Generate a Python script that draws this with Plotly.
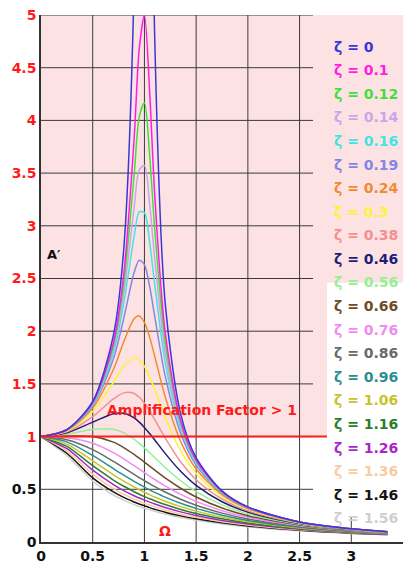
import plotly.graph_objects as go

# ---- data ----
omega = [0, 0.25, 0.5, 0.7, 0.8, 0.9, 0.95, 1.0, 1.05, 1.1, 1.2, 1.35, 1.5, 1.75, 2.0, 2.5, 3.0, 3.35]

zeta_labels = ["0", "0.1", "0.12", "0.14", "0.16", "0.19", "0.24", "0.3", "0.38", "0.46", "0.56",
               "0.66", "0.76", "0.86", "0.96", "1.06", "1.16", "1.26", "1.36", "1.46", "1.56"]

a_z000 = [1, 1.067, 1.333, 1.961, 2.778, 5.263, 10.26, None, 9.756, 4.762, 2.273, 1.216, 0.8, 0.485, 0.333, 0.190, 0.125, 0.098]
a_z010 = [1, 1.065, 1.322, 1.891, 2.538, 3.821, 4.682, 5.0, 4.279, 3.288, 1.995, 1.155, 0.778, 0.478, 0.330, 0.190, 0.125, 0.098]
a_z012 = [1, 1.065, 1.317, 1.862, 2.451, 3.476, 4.033, 4.167, 3.676, 2.965, 1.902, 1.131, 0.769, 0.475, 0.329, 0.189, 0.125, 0.098]
a_z014 = [1, 1.064, 1.311, 1.830, 2.358, 3.169, 3.530, 3.571, 3.212, 2.683, 1.806, 1.105, 0.758, 0.472, 0.328, 0.189, 0.124, 0.097]
a_z016 = [1, 1.063, 1.304, 1.795, 2.264, 2.898, 3.132, 3.125, 2.847, 2.440, 1.712, 1.076, 0.747, 0.468, 0.326, 0.188, 0.124, 0.097]
a_z019 = [1, 1.061, 1.293, 1.738, 2.122, 2.556, 2.674, 2.632, 2.427, 2.138, 1.578, 1.032, 0.728, 0.462, 0.323, 0.187, 0.124, 0.097]
a_z024 = [1, 1.058, 1.270, 1.637, 1.900, 2.119, 2.145, 2.083, 1.944, 1.760, 1.380, 0.955, 0.693, 0.449, 0.318, 0.186, 0.123, 0.097]
a_z030 = [1, 1.053, 1.238, 1.514, 1.667, 1.747, 1.729, 1.667, 1.567, 1.444, 1.185, 0.866, 0.649, 0.432, 0.310, 0.183, 0.122, 0.096]
a_z038 = [1, 1.045, 1.189, 1.357, 1.415, 1.409, 1.373, 1.316, 1.243, 1.160, 0.988, 0.761, 0.591, 0.408, 0.297, 0.179, 0.120, 0.095]
a_z046 = [1, 1.036, 1.137, 1.217, 1.221, 1.177, 1.137, 1.087, 1.029, 0.968, 0.841, 0.671, 0.537, 0.382, 0.284, 0.175, 0.118, 0.094]
a_z056 = [1, 1.022, 1.068, 1.069, 1.036, 0.975, 0.936, 0.893, 0.847, 0.800, 0.707, 0.581, 0.478, 0.352, 0.267, 0.168, 0.115, 0.092]
a_z066 = [1, 1.006, 1.001, 0.948, 0.896, 0.831, 0.795, 0.758, 0.720, 0.682, 0.608, 0.510, 0.427, 0.323, 0.250, 0.161, 0.112, 0.090]
a_z076 = [1, 0.989, 0.937, 0.848, 0.789, 0.724, 0.691, 0.658, 0.625, 0.593, 0.533, 0.452, 0.385, 0.297, 0.234, 0.154, 0.109, 0.088]
a_z086 = [1, 0.970, 0.876, 0.765, 0.703, 0.641, 0.611, 0.581, 0.553, 0.525, 0.474, 0.406, 0.349, 0.274, 0.219, 0.147, 0.105, 0.085]
a_z096 = [1, 0.950, 0.821, 0.696, 0.634, 0.575, 0.548, 0.521, 0.495, 0.471, 0.426, 0.368, 0.319, 0.254, 0.205, 0.141, 0.101, 0.083]
a_z106 = [1, 0.929, 0.770, 0.637, 0.577, 0.522, 0.496, 0.472, 0.449, 0.427, 0.387, 0.336, 0.293, 0.236, 0.193, 0.134, 0.098, 0.080]
a_z116 = [1, 0.907, 0.724, 0.588, 0.529, 0.477, 0.453, 0.431, 0.410, 0.391, 0.355, 0.309, 0.270, 0.220, 0.181, 0.128, 0.094, 0.078]
a_z126 = [1, 0.885, 0.682, 0.545, 0.488, 0.439, 0.417, 0.397, 0.378, 0.360, 0.327, 0.286, 0.251, 0.205, 0.171, 0.122, 0.091, 0.075]
a_z136 = [1, 0.863, 0.644, 0.507, 0.453, 0.407, 0.387, 0.368, 0.350, 0.333, 0.304, 0.266, 0.234, 0.193, 0.161, 0.116, 0.088, 0.073]
a_z146 = [1, 0.842, 0.609, 0.475, 0.423, 0.380, 0.360, 0.343, 0.326, 0.311, 0.283, 0.248, 0.220, 0.182, 0.152, 0.111, 0.084, 0.071]
a_z156 = [1, 0.820, 0.578, 0.446, 0.397, 0.355, 0.337, 0.321, 0.305, 0.291, 0.265, 0.233, 0.206, 0.171, 0.144, 0.106, 0.081, 0.068]

curve_values = [a_z000, a_z010, a_z012, a_z014, a_z016, a_z019, a_z024, a_z030, a_z038, a_z046, a_z056,
                a_z066, a_z076, a_z086, a_z096, a_z106, a_z116, a_z126, a_z136, a_z146, a_z156]

colors = ["#3a36d8", "#ff1ee0", "#3fe03a", "#c9a6ec", "#45e3e3", "#8585e6", "#f28a32", "#fff23a",
          "#f49090", "#1e1e78", "#93f093", "#6e4b28", "#f08cf0", "#6a6a6a", "#2b8f8f", "#c9c22e",
          "#2c7d2c", "#a826c8", "#f7cca0", "#151515", "#cfcfcf"]

# amplification threshold line (A' = 1) and its extent along Omega
threshold_x = [0, 2.765]
threshold_y = [1, 1]

x_ticks = [0, 0.5, 1, 1.5, 2, 2.5, 3, 3.5]
y_ticks = [0, 0.5, 1, 1.5, 2, 2.5, 3, 3.5, 4, 4.5, 5]

fig = go.Figure()

for lab, vals, col in reversed(list(zip(zeta_labels, curve_values, colors))):
    fig.add_trace(go.Scatter(
        x=omega, y=vals, mode="lines", name="ζ = " + lab,
        line=dict(color=col, width=1.5, shape="spline", smoothing=0.8),
        connectgaps=False, showlegend=False, hoverinfo="skip"))

fig.add_trace(go.Scatter(x=threshold_x, y=threshold_y, mode="lines",
                         line=dict(color="#ff1a1a", width=2), showlegend=False, hoverinfo="skip"))

# plot area in pixels: x 41..403, y 15..548
def px_x(p):
    return (p - 41) / 362.0

def px_y(p):
    return (548 - p) / 533.0

PINK = "#fde2e4"
GRID = "#3a3a3a"
shapes = []
shapes.append(dict(type="rect", xref="x", yref="y", x0=0, x1=2.765, y0=1, y1=5,
                   fillcolor=PINK, line=dict(width=0), layer="below"))
shapes.append(dict(type="rect", xref="x", yref="y", x0=2.765, x1=3.6, y0=2.46, y1=5,
                   fillcolor=PINK, line=dict(width=0), layer="below"))
for gx in [0.5, 1, 1.5, 2, 2.5]:
    shapes.append(dict(type="line", xref="x", yref="y", x0=gx, x1=gx, y0=0, y1=5,
                       line=dict(color=GRID, width=1), layer="below"))
shapes.append(dict(type="line", xref="x", yref="y", x0=3, x1=3, y0=0, y1=0.24,
                   line=dict(color=GRID, width=1), layer="below"))
for gy in [0.5, 1, 1.5, 2, 2.5, 3, 3.5, 4, 4.5, 5]:
    shapes.append(dict(type="line", xref="x", yref="y", x0=0, x1=2.63, y0=gy, y1=gy,
                       line=dict(color=GRID, width=1), layer="below"))

annotations = []
FONT = "DejaVu Sans"
for i, (lab, col) in enumerate(zip(zeta_labels, colors)):
    ypx = 47 + i * 23.85
    annotations.append(dict(xref="paper", yref="paper", x=px_x(332), y=px_y(ypx),
                            xanchor="left", yanchor="middle", showarrow=False,
                            text="ζ = " + lab,
                            font=dict(family=FONT, size=14, color=col, weight="bold")))
annotations.append(dict(xref="x", yref="y", x=1.56, y=1.25, showarrow=False,
                        text="Amplification Factor > 1",
                        font=dict(family=FONT, size=14, color="#ff1a1a", weight="bold")))
annotations.append(dict(xref="x", yref="y", x=1.2, y=0.1, showarrow=False, text="Ω",
                        font=dict(family=FONT, size=14, color="#ff1a1a", weight="bold")))
annotations.append(dict(xref="x", yref="y", x=0.13, y=2.73, showarrow=False, text="A′",
                        font=dict(family=FONT, size=13, color="#111111", weight="bold")))

# y tick labels: values >= 1 in red, the rest in black
y_ticktext = []
for v in y_ticks:
    s = "{:g}".format(v)
    c = "#ff1a1a" if v >= 1 else "#111111"
    y_ticktext.append("<span style='color:%s'>%s</span>" % (c, s))

fig.update_layout(
    width=404, height=565,
    margin=dict(l=41, r=1, t=15, b=17),
    paper_bgcolor="white", plot_bgcolor="white",
    shapes=shapes, annotations=annotations,
    xaxis=dict(range=[0, 3.5], showgrid=False, zeroline=False, showline=True,
               linecolor="#333333", linewidth=1.5, tickvals=x_ticks,
               ticktext=["{:g}".format(v) for v in x_ticks], ticks="",
               tickfont=dict(family=FONT, size=14, color="#111111", weight="bold")),
    yaxis=dict(range=[0, 5], showgrid=False, zeroline=False, showline=True,
               linecolor="#333333", linewidth=1.5, tickvals=y_ticks, ticktext=y_ticktext,
               ticks="", tickfont=dict(family=FONT, size=14, color="#111111", weight="bold")),
)

fig.write_html("out.html")
